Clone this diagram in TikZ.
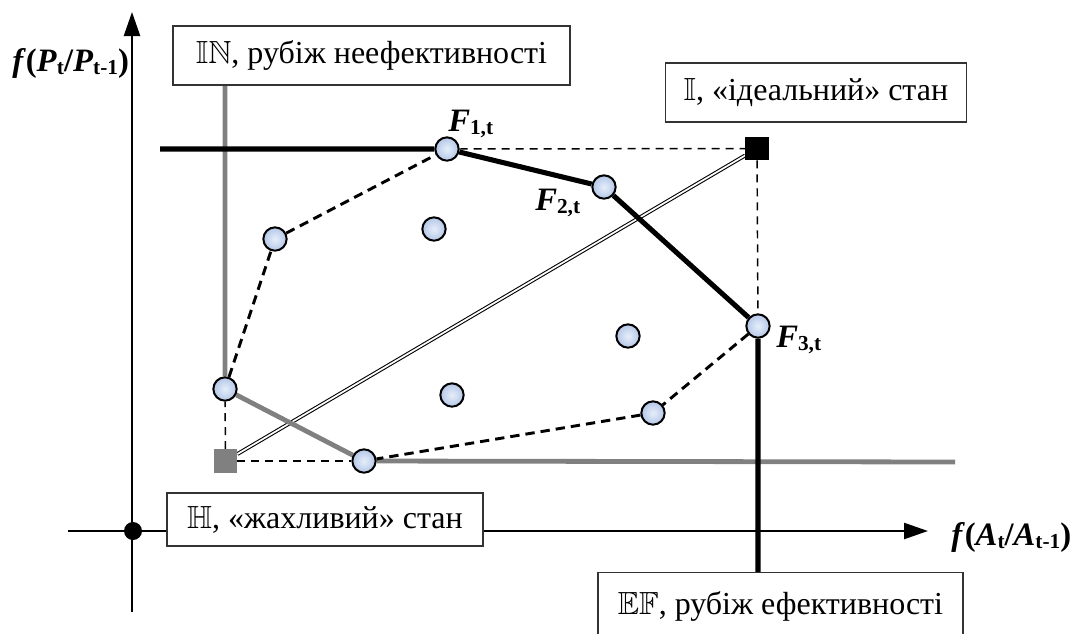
\documentclass[tikz,border=0pt]{standalone}
\usepackage{amssymb}
\usepackage{fontspec}
\setmainfont{Liberation Serif}
\usetikzlibrary{arrows.meta,backgrounds}
\definecolor{ptin}{HTML}{E6EEFA}
\definecolor{ptout}{HTML}{B4C7E7}
\definecolor{grayline}{HTML}{808080}
\newcommand{\sbs}[1]{\raisebox{-0.12em}{\fontsize{16}{17}\selectfont #1}}
\newcommand{\dbl}[1]{$\mathbb{#1}$}
\begin{document}
\begin{tikzpicture}[x=0.75pt,y=-0.75pt,
  pt/.style={circle,draw=black,line width=1.5pt,inner color=ptin,outer color=ptout,minimum size=17.5pt,inner sep=0pt},
  lbox/.style={draw=black!80,line width=1pt,fill=white,inner sep=0pt,font=\fontsize{24}{28}\selectfont},
  sq/.style={rectangle,minimum size=17.5pt,inner sep=0pt},
  axis/.style={line width=1.8pt,-{Triangle[length=18pt,width=12pt]}},
  frontier/.style={line width=3.8pt},
  grayfront/.style={line width=3.6pt,grayline},
  hull/.style={line width=2.2pt,dash pattern=on 7pt off 4.5pt},
  guide/.style={line width=1.1pt,dash pattern=on 6pt off 4.5pt},
  lbl/.style={font=\fontsize{24.5}{29}\selectfont\bfseries,inner sep=0pt},
]
\useasboundingbox (0,0) rectangle (1076,633);
\clip (0,0) rectangle (1076,633);

% axis ends
\coordinate (ybot) at (132,612);
\coordinate (ytop) at (132,12);
\coordinate (xleft) at (68,531);
\coordinate (xright) at (928,531);
\node[circle,fill=black,minimum size=13.5pt,inner sep=0pt] (O) at (133,531) {};

% boxes
\node[lbox,minimum width=297.75pt,minimum height=44.25pt] (IN) at (371.5,55.5) {\dbl{I}\dbl{N}, рубіж неефективності};
\node[lbox,anchor=west,minimum height=44.25pt,inner xsep=13.5pt] (ID) at (665,92.5) {\dbl{I}, «ідеальний» стан};
\node[lbox,minimum width=237pt,minimum height=39.75pt] (H) at (325,519.5) {\dbl{H}, «жахливий» стан};
\node[lbox,anchor=north,minimum width=273.75pt,minimum height=51pt] (EF) at (780.5,572) {\dbl{E}\dbl{F}, рубіж ефективності};

% points
\node[pt] (F1) at (447,149) {};
\node[pt] (F2) at (604,187) {};
\node[pt] (F3) at (758,326) {};
\node[pt] (Ptl) at (275,239) {};
\node[pt] (Pin) at (434,229) {};
\node[pt] (Pl) at (225,389) {};
\node[pt] (Pm) at (452,395) {};
\node[pt] (Pr) at (628,336) {};
\node[pt] (Pbr) at (653,413) {};
\node[pt] (Pb) at (364,461) {};

% squares
\node[sq,fill=grayline] (Hs) at (225.5,461) {};
\node[sq,fill=black] (Is) at (757,148.5) {};

% free ends
\coordinate (topleft) at (160,149);
\coordinate (grayend) at (955,462);

% labels
\node[lbl,anchor=base west] (LF1) at (448,131) {\textit{F}\sbs{1,t}};
\node[lbl,anchor=base west] (LF2) at (535,210) {\textit{F}\sbs{2,t}};
\node[lbl,anchor=base west] (LF3) at (776,347) {\textit{F}\sbs{3,t}};
\node[lbl,anchor=base west] (LY) at (12,71) {\textit{f}(\textit{P}\sbs{t}/\textit{P}\sbs{t-1})};
\node[lbl,anchor=base west] (LX) at (951,545) {\textit{f}(\textit{A}\sbs{t}/\textit{A}\sbs{t-1})};

\begin{scope}[on background layer]
  \draw[axis] (ybot) -- (ytop);
  \draw[axis] (xleft) -- (xright);
  % guides
  \draw[guide] (F1) -- (Is);
  \draw[guide] (Is) -- (F3);
  \draw[guide] (Hs) -- (Pl);
  \draw[guide] (Hs) -- (Pb);
  % double line
  \draw[line width=0.8pt,double=white,double distance=1.3pt] (Hs) -- (Is);
  % gray boundary
  \draw[grayfront] (Pl |- IN.south) -- (Pl) -- (Pb) -- (grayend);
  % efficient frontier
  \draw[frontier] (topleft) -- (F1) -- (F2) -- (F3) -- (F3 |- EF.north);
  % hull
  \draw[hull] (Pl) -- (Ptl) -- (F1);
  \draw[hull] (F3) -- (Pbr) -- (Pb);
\end{scope}
\end{tikzpicture}
\end{document}
